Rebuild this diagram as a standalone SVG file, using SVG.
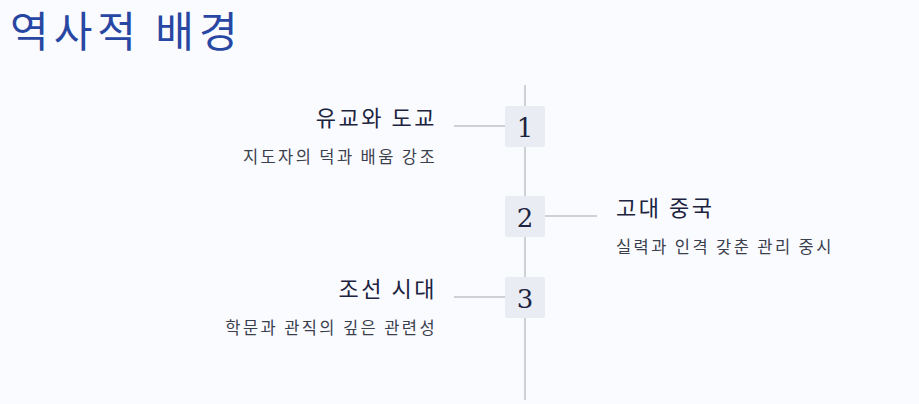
<svg xmlns="http://www.w3.org/2000/svg" width="919" height="404" viewBox="0 0 919 404">
<style>
.t{font-family:"Noto Sans CJK KR","Noto Sans",sans-serif;fill:#1c2340;font-size:22px;letter-spacing:2.5px}
.d{font-family:"Noto Sans CJK KR","Noto Sans",sans-serif;fill:#3a3f4e;font-size:16.5px;letter-spacing:2.4px}
.n{font-family:"DejaVu Serif",serif;fill:#1c2340;font-size:26px;text-anchor:middle}
.b{fill:#e9ecf3}
.c{stroke:#cfd0d6;stroke-width:2;fill:none}
</style>
<rect width="919" height="404" fill="#fafbfe"/>
<text x="10" y="47" font-family="Noto Sans CJK KR,sans-serif" font-size="42" letter-spacing="5" fill="#2747a3">역사적 배경</text>
<g id="connectors">
<line class="c" x1="525" y1="85" x2="525" y2="400"/>
<line class="c" x1="454" y1="126" x2="505" y2="126"/>
<line class="c" x1="545" y1="216" x2="597" y2="216"/>
<line class="c" x1="454" y1="297" x2="505" y2="297"/>
</g>
<g id="node1">
<rect class="b" x="505" y="106" width="40" height="41" rx="2"/>
<text class="n" x="525" y="137">1</text>
<text class="t" x="437" y="126" text-anchor="end">유교와 도교</text>
<text class="d" x="437" y="163" text-anchor="end">지도자의 덕과 배움 강조</text>
</g>
<g id="node2">
<rect class="b" x="505" y="196" width="40" height="41" rx="2"/>
<text class="n" x="525" y="227">2</text>
<text class="t" x="616" y="216">고대 중국</text>
<text class="d" x="616" y="253">실력과 인격 갖춘 관리 중시</text>
</g>
<g id="node3">
<rect class="b" x="505" y="277" width="40" height="41" rx="2"/>
<text class="n" x="525" y="308">3</text>
<text class="t" x="437" y="297" text-anchor="end">조선 시대</text>
<text class="d" x="437" y="334" text-anchor="end">학문과 관직의 깊은 관련성</text>
</g>
</svg>
